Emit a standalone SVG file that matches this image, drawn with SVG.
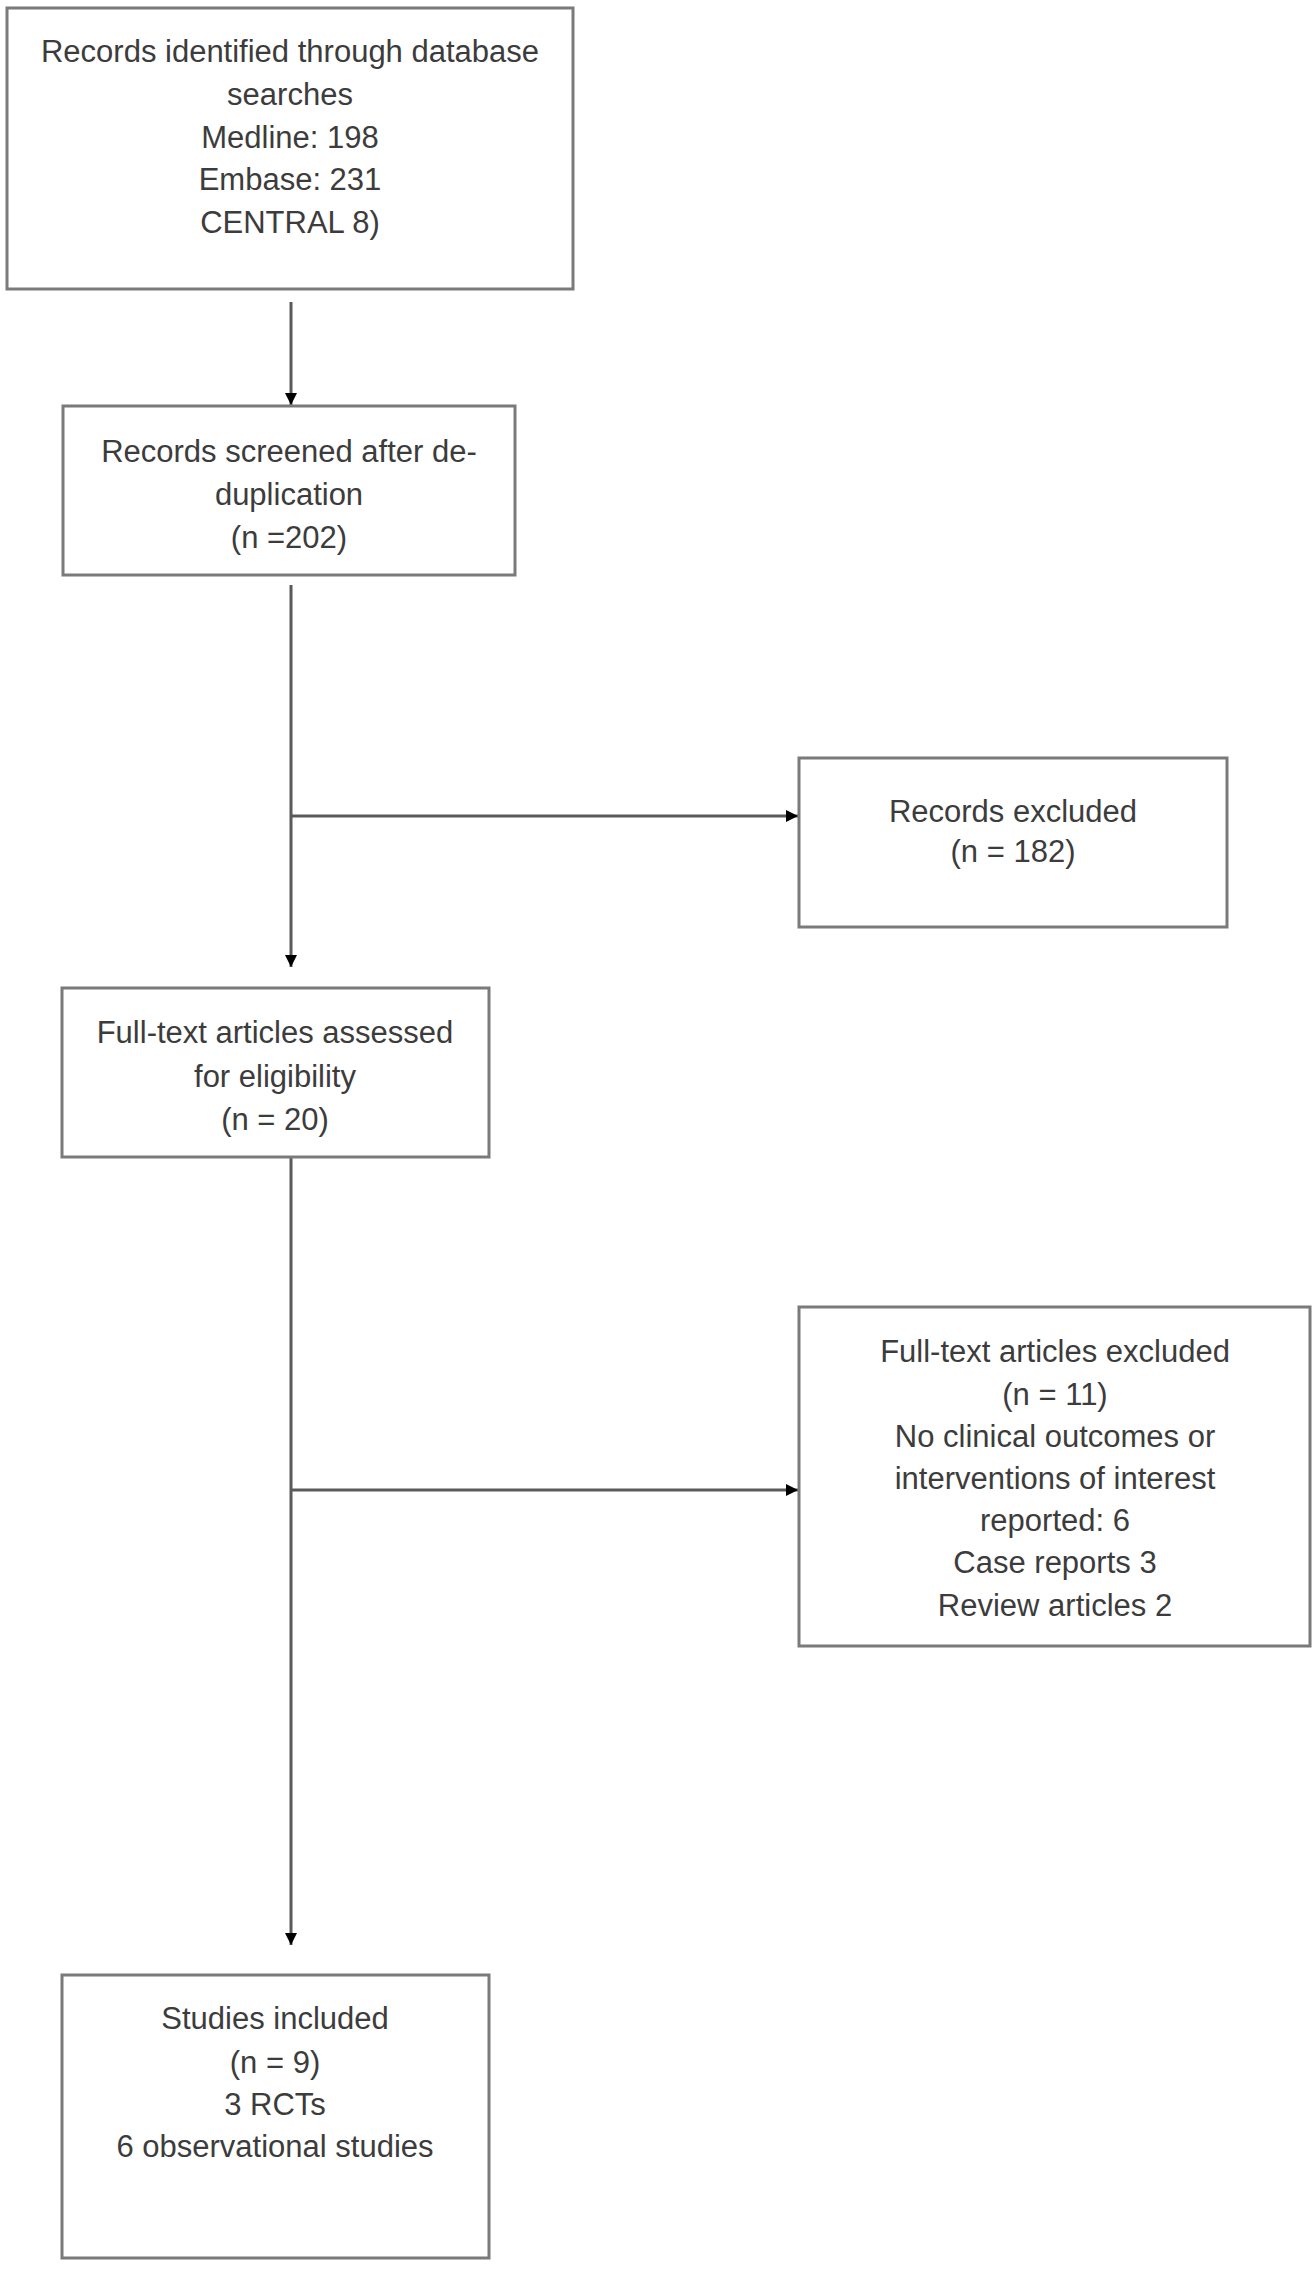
<svg xmlns="http://www.w3.org/2000/svg" width="1314" height="2269" viewBox="0 0 1314 2269">
<style>
.box{fill:#fff;stroke:#7a7a7a;stroke-width:3}
.t{font-family:"Liberation Sans",Arial,sans-serif;font-size:31px;fill:#3c3c3c;text-anchor:middle}
.c{fill:none;stroke:#5a5a5a;stroke-width:3}
</style>
<defs>
<marker id="ah" viewBox="0 0 10 10" refX="10" refY="5" markerWidth="4" markerHeight="4" orient="auto" markerUnits="strokeWidth">
<path d="M0,0 L10,5 L0,10 z" fill="#000"/>
</marker>
</defs>
<rect width="1314" height="2269" fill="#fff"/>
<g id="connectors">
<line class="c" x1="291" y1="302" x2="291" y2="405" marker-end="url(#ah)"/>
<line class="c" x1="291" y1="585" x2="291" y2="967" marker-end="url(#ah)"/>
<line class="c" x1="291" y1="816" x2="798" y2="816" marker-end="url(#ah)"/>
<line class="c" x1="291" y1="1158" x2="291" y2="1945" marker-end="url(#ah)"/>
<line class="c" x1="291" y1="1490" x2="798" y2="1490" marker-end="url(#ah)"/>
</g>
<g id="n1">
<rect class="box" x="7" y="8" width="566" height="281"/>
<text class="t" x="290" y="62">Records identified through database</text>
<text class="t" x="290" y="105">searches</text>
<text class="t" x="290" y="148">Medline: 198</text>
<text class="t" x="290" y="190">Embase: 231</text>
<text class="t" x="290" y="233">CENTRAL 8)</text>
</g>
<g id="n2">
<rect class="box" x="63" y="406" width="452" height="169"/>
<text class="t" x="289" y="462">Records screened after de-</text>
<text class="t" x="289" y="505">duplication</text>
<text class="t" x="289" y="548">(n =202)</text>
</g>
<g id="n3">
<rect class="box" x="799" y="758" width="428" height="169"/>
<text class="t" x="1013" y="822">Records excluded</text>
<text class="t" x="1013" y="862">(n = 182)</text>
</g>
<g id="n4">
<rect class="box" x="62" y="988" width="427" height="169"/>
<text class="t" x="275" y="1043">Full-text articles assessed</text>
<text class="t" x="275" y="1087">for eligibility</text>
<text class="t" x="275" y="1130">(n = 20)</text>
</g>
<g id="n5">
<rect class="box" x="799" y="1307" width="511" height="339"/>
<text class="t" x="1055" y="1362">Full-text articles excluded</text>
<text class="t" x="1055" y="1405">(n = 11)</text>
<text class="t" x="1055" y="1447">No clinical outcomes or</text>
<text class="t" x="1055" y="1489">interventions of interest</text>
<text class="t" x="1055" y="1531">reported: 6</text>
<text class="t" x="1055" y="1573">Case reports 3</text>
<text class="t" x="1055" y="1616">Review articles 2</text>
</g>
<g id="n6">
<rect class="box" x="62" y="1975" width="427" height="283"/>
<text class="t" x="275" y="2029">Studies included</text>
<text class="t" x="275" y="2073">(n = 9)</text>
<text class="t" x="275" y="2115">3 RCTs</text>
<text class="t" x="275" y="2157">6 observational studies</text>
</g>
</svg>
